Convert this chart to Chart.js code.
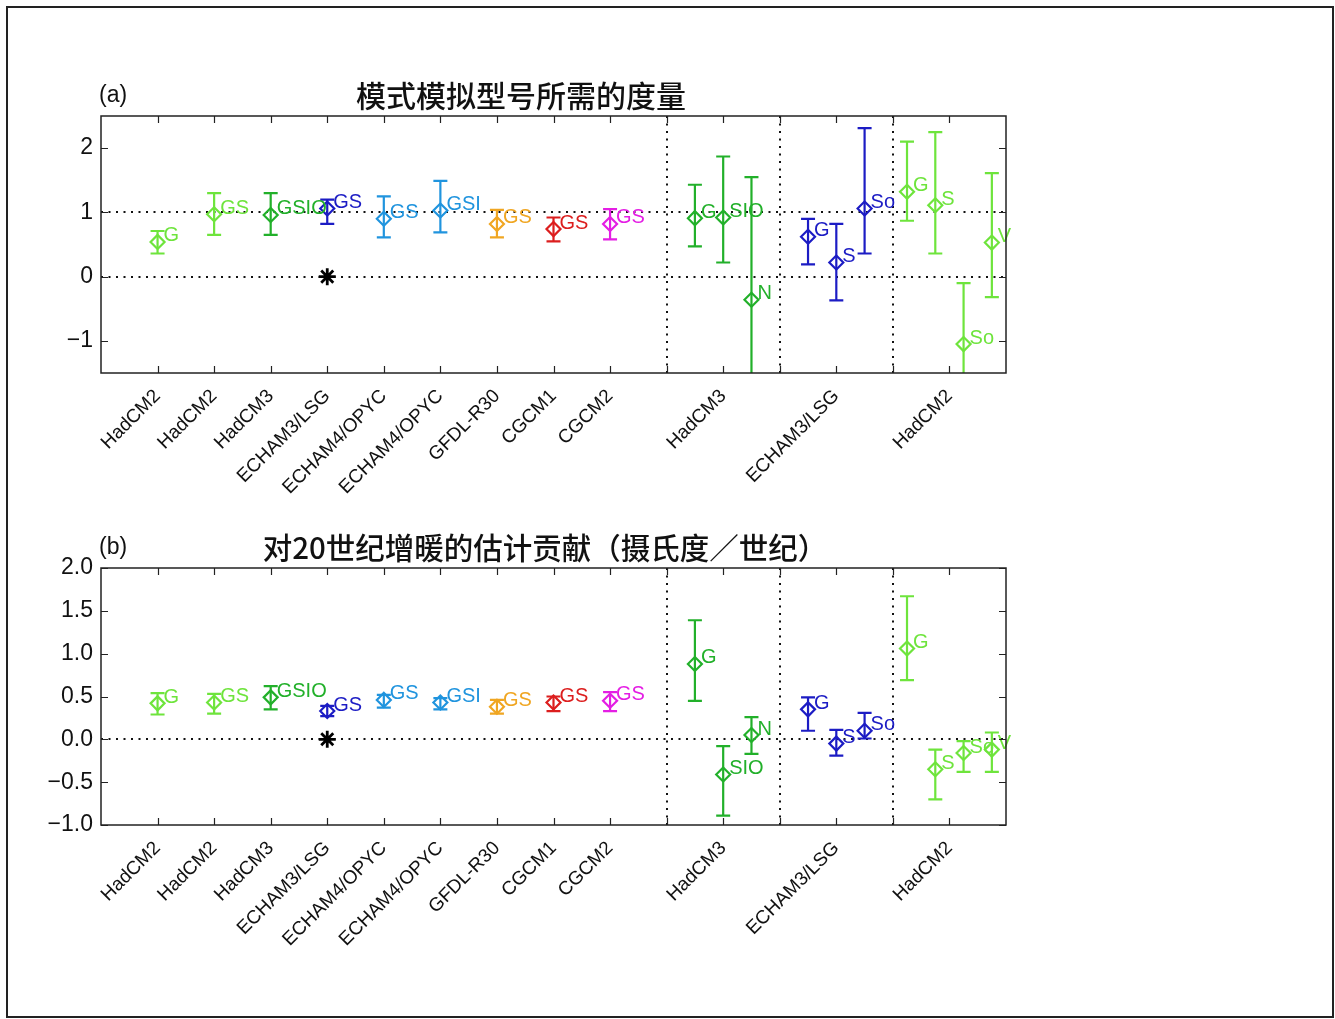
<!DOCTYPE html>
<html>
<head>
<meta charset="utf-8">
<script src="https://cdn.jsdelivr.net/npm/chart.js@4.4.1/dist/chart.umd.min.js"></script>
<style>
html, body { margin: 0; padding: 0; background: #fff; }
body { width: 1335px; height: 1019px; position: relative; overflow: hidden; font-family: "Liberation Sans", Arial, sans-serif; }
.frame { position: absolute; left: 6px; top: 6px; width: 1328px; height: 1012px; border: 2px solid #222; box-sizing: border-box; }
.panel { position: absolute; left: 0; width: 1335px; }
.tag { position: absolute; font-size: 23px; color: #111; }
.title { position: absolute; font-family: "Noto Sans CJK SC", sans-serif; font-weight: 500; font-size: 30px; color: #111; white-space: nowrap; transform: translateX(-50%); }
</style>
</head>
<body>
<div class="frame"></div>
<div class="panel" style="top:0;height:510px"><canvas id="chartA" width="1335" height="510"></canvas></div>
<div class="panel" style="top:510px;height:509px"><canvas id="chartB" width="1335" height="509"></canvas></div>
<div class="tag" style="left:99px;top:81px">(a)</div>
<div class="title" style="left:521px;top:72px">模式模拟型号所需的度量</div>
<div class="tag" style="left:99px;top:533px">(b)</div>
<div class="title" style="left:545px;top:525px;font-size:29.5px">对20世纪增暖的估计贡献（摄氏度／世纪）</div>

<script>
// 模式名称及其横轴位置
const modelPos = [1, 2, 3, 4, 5, 6, 7, 8, 9, 11, 13, 15];
const modelNames = ['HadCM2', 'HadCM2', 'HadCM3', 'ECHAM3/LSG', 'ECHAM4/OPYC', 'ECHAM4/OPYC',
    'GFDL-R30', 'CGCM1', 'CGCM2', 'HadCM3', 'ECHAM3/LSG', 'HadCM2'];

// 每个估计点的横坐标、标注和颜色
const xPos = [1, 2, 3, 4, 5, 6, 7, 8, 9, 10.5, 11, 11.5, 12.5, 13, 13.5, 14.25, 14.75, 15.25, 15.75];
const pointTags = ['G', 'GS', 'GSIO', 'GS', 'GS', 'GSI', 'GS', 'GS', 'GS',
    'G', 'SIO', 'N', 'G', 'S', 'So', 'G', 'S', 'So', 'V'];
const pointColors = ['#6ee43c', '#6ee43c', '#22b02a', '#1c1cc4', '#2094de', '#2094de', '#f0a622', '#dc1e1e', '#e41ee4',
    '#22b02a', '#22b02a', '#22b02a', '#1c1cc4', '#1c1cc4', '#1c1cc4', '#6ee43c', '#6ee43c', '#6ee43c', '#6ee43c'];

// (a) 所需的缩放因子
const aMid  = [0.54, 0.97, 0.96, 1.06, 0.90, 1.03, 0.82, 0.74, 0.82, 0.91, 0.92, -0.36, 0.62, 0.22, 1.06, 1.32, 1.11, -1.05, 0.53];
const aLow  = [0.36, 0.65, 0.65, 0.82, 0.61, 0.69, 0.61, 0.55, 0.58, 0.47, 0.22, -2.40, 0.19, -0.37, 0.36, 0.87, 0.36, -2.20, -0.32];
const aHigh = [0.71, 1.30, 1.30, 1.20, 1.25, 1.49, 1.04, 0.92, 1.05, 1.43, 1.87, 1.55, 0.90, 0.82, 2.31, 2.10, 2.25, -0.10, 1.61];

// (b) 对20世纪增暖的贡献
const bMid  = [0.42, 0.43, 0.49, 0.33, 0.46, 0.43, 0.38, 0.43, 0.45, 0.88, -0.41, 0.05, 0.35, -0.05, 0.10, 1.06, -0.35, -0.16, -0.12];
const bLow  = [0.29, 0.30, 0.35, 0.27, 0.37, 0.35, 0.30, 0.33, 0.33, 0.45, -0.89, -0.17, 0.10, -0.19, 0.01, 0.69, -0.70, -0.38, -0.38];
const bHigh = [0.54, 0.53, 0.62, 0.39, 0.52, 0.48, 0.46, 0.50, 0.55, 1.39, -0.08, 0.26, 0.49, 0.11, 0.31, 1.67, -0.12, -0.02, 0.08];

// 观测参照点 (星号)
const starPoint = [{ x: 4, y: 0 }];

const yTicksA = [-1, 0, 1, 2];
const yTicksB = [-1, -0.5, 0, 0.5, 1, 1.5, 2];
const vLines = [10, 12, 14];

const INK = '#111';

// 误差棒、虚线、标注和内刻度
const decor = {
    id: 'decor',
    beforeDatasetsDraw(chart, args, opts) {
        const { ctx, chartArea: a, scales: { x, y } } = chart;
        ctx.save();
        ctx.beginPath();
        ctx.rect(a.left, a.top, a.right - a.left, a.bottom - a.top);
        ctx.clip();

        ctx.strokeStyle = INK;
        ctx.lineWidth = 2;
        ctx.setLineDash([2, 5.5]);
        opts.hLines.forEach(v => {
            const py = Math.round(y.getPixelForValue(v));
            ctx.beginPath();
            ctx.moveTo(a.left, py);
            ctx.lineTo(a.right, py);
            ctx.stroke();
        });
        vLines.forEach(v => {
            const px = Math.round(x.getPixelForValue(v));
            ctx.beginPath();
            ctx.moveTo(px, a.top);
            ctx.lineTo(px, a.bottom);
            ctx.stroke();
        });
        ctx.setLineDash([]);

        ctx.lineWidth = 2.2;
        xPos.forEach((xv, i) => {
            const px = x.getPixelForValue(xv);
            const p1 = y.getPixelForValue(opts.low[i]);
            const p2 = y.getPixelForValue(opts.high[i]);
            ctx.strokeStyle = pointColors[i];
            ctx.beginPath();
            ctx.moveTo(px, p1); ctx.lineTo(px, p2);
            ctx.moveTo(px - 7, p1); ctx.lineTo(px + 7, p1);
            ctx.moveTo(px - 7, p2); ctx.lineTo(px + 7, p2);
            ctx.stroke();
        });
        ctx.restore();
    },
    afterDatasetsDraw(chart, args, opts) {
        const { ctx, chartArea: a, scales: { x, y } } = chart;
        ctx.save();
        ctx.font = '20px "Liberation Sans", Arial, sans-serif';
        ctx.textBaseline = 'middle';
        ctx.textAlign = 'left';
        xPos.forEach((xv, i) => {
            ctx.fillStyle = pointColors[i];
            ctx.fillText(pointTags[i], x.getPixelForValue(xv) + 6, y.getPixelForValue(opts.mid[i]) - 6);
        });

        // 坐标框
        ctx.strokeStyle = '#222';
        ctx.lineWidth = 1.5;
        ctx.strokeRect(a.left, a.top, a.right - a.left, a.bottom - a.top);

        // 内刻度
        ctx.lineWidth = 1.2;
        ctx.beginPath();
        for (let k = 1; k <= 15; k++) {
            const px = Math.round(x.getPixelForValue(k)) + 0.5;
            ctx.moveTo(px, a.bottom); ctx.lineTo(px, a.bottom - 7);
            ctx.moveTo(px, a.top); ctx.lineTo(px, a.top + 7);
        }
        opts.yTicks.forEach(v => {
            const py = Math.round(y.getPixelForValue(v)) + 0.5;
            ctx.moveTo(a.left, py); ctx.lineTo(a.left + 7, py);
            ctx.moveTo(a.right, py); ctx.lineTo(a.right - 7, py);
        });
        ctx.stroke();
        ctx.restore();
    }
};

function minus(s) {
    return s.replace('-', '\u2212');
}

function makeChart(id, mid, low, high, yMin, yMax, yTicks, yFmt, padTop, xHeight, hLines) {
    const ctx = document.getElementById(id).getContext('2d');
    return new Chart(ctx, {
        type: 'scatter',
        data: {
            datasets: [
                {
                    data: xPos.map((xv, i) => ({ x: xv, y: mid[i] })),
                    pointStyle: 'rectRot',
                    pointRadius: 7,
                    pointBorderWidth: 2.2,
                    pointBorderColor: pointColors,
                    pointBackgroundColor: 'rgba(0,0,0,0)'
                },
                {
                    data: starPoint,
                    pointStyle: 'star',
                    pointRadius: 8.5,
                    pointBorderWidth: 2.8,
                    pointBorderColor: '#000',
                    pointBackgroundColor: '#000'
                }
            ]
        },
        options: {
            responsive: false,
            animation: false,
            events: [],
            layout: { padding: { left: 0, top: padTop, right: 329, bottom: 0 } },
            plugins: {
                legend: { display: false },
                tooltip: { enabled: false },
                decor: { mid, low, high, hLines, yTicks }
            },
            scales: {
                x: {
                    type: 'linear',
                    min: 0,
                    max: 16,
                    afterBuildTicks: s => { s.ticks = modelPos.map(v => ({ value: v })); },
                    afterFit: s => { s.height = xHeight; },
                    grid: { display: false, drawTicks: false },
                    border: { display: false },
                    ticks: {
                        autoSkip: false,
                        minRotation: 45,
                        maxRotation: 45,
                        padding: 12,
                        color: INK,
                        font: { family: '"Liberation Sans", Arial, sans-serif', size: 19 },
                        callback: (v, i) => modelNames[i]
                    }
                },
                y: {
                    min: yMin,
                    max: yMax,
                    afterBuildTicks: s => { s.ticks = yTicks.map(v => ({ value: v })); },
                    afterFit: s => { s.width = 101; },
                    grid: { display: false, drawTicks: false },
                    border: { display: false },
                    ticks: {
                        padding: 8,
                        color: INK,
                        font: { family: '"Liberation Sans", Arial, sans-serif', size: 23 },
                        callback: v => minus(yFmt(v))
                    }
                }
            }
        },
        plugins: [decor]
    });
}

makeChart('chartA', aMid, aLow, aHigh, -1.5, 2.5, yTicksA, v => String(v), 116, 137, [0, 1]);
makeChart('chartB', bMid, bLow, bHigh, -1, 2, yTicksB, v => v.toFixed(1), 58, 194, [0]);
</script>
</body>
</html>
